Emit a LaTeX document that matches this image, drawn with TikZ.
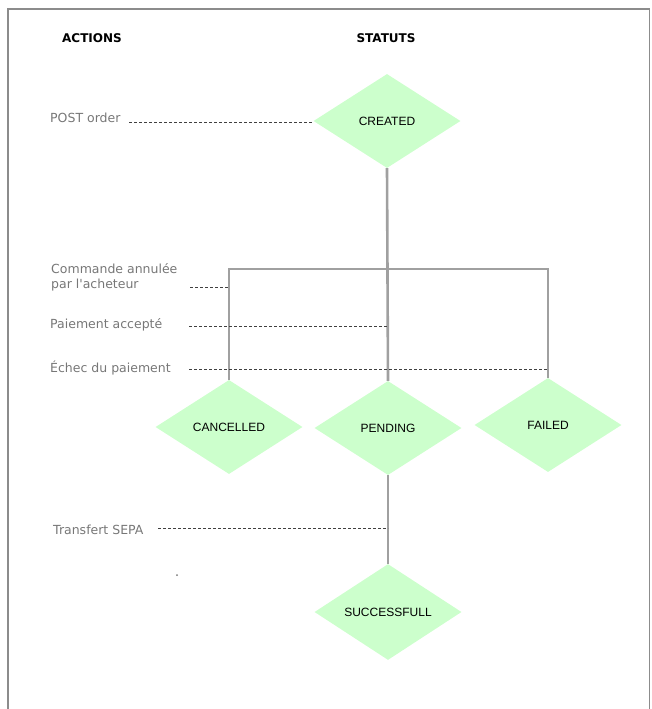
\documentclass[tikz,border=0pt]{standalone}
\usepackage{fontspec}
\setmainfont{Liberation Sans}
\newfontfamily\dvfont{DejaVu Sans}
\usetikzlibrary{shapes.geometric}
\definecolor{dfill}{HTML}{CCFFCC}
\definecolor{gline}{HTML}{A0A0A0}
\definecolor{dashc}{HTML}{404040}
\definecolor{lbl}{HTML}{777777}
\definecolor{frame}{HTML}{8C8C8C}
\tikzset{
  state/.style={diamond, fill=dfill, draw=none, minimum width=147pt, minimum height=94pt, inner sep=0pt, text=black, font=\fontsize{12}{13}\selectfont},
  head/.style={font=\dvfont\bfseries\fontsize{12}{14}\selectfont, text=black},
  act/.style={anchor=west, inner sep=0pt, text=lbl, font=\dvfont\fontsize{12.5}{15}\selectfont, align=left},
  flow/.style={draw=gline, line width=2.6pt},
  dline/.style={draw=dashc, line width=0.9pt, dash pattern=on 3pt off 2pt},
}
\begin{document}
\begin{tikzpicture}[x=1pt,y=-1pt]
\useasboundingbox (0,0) rectangle (651,709);
\draw[frame, line width=1.3pt] (8,709) -- (8,9) -- (649.5,9) -- (649.5,709);
% headers
\node[head] (hact) at (92,38) {ACTIONS};
\node[head] (hstat) at (386,38) {STATUTS};
% states
\node[state] (created) at (387,121) {CREATED};
\node[state] (cancelled) at (229,427) {CANCELLED};
\node[state] (pending) at (388,428) {PENDING};
\node[state] (failed) at (548,425) {FAILED};
\node[state] (success) at (388,612) {SUCCESSFULL};
% actions
\node[act] (post) at (50,118) {POST order};
\node[act] (annul) at (51,277.5) {Commande annulée\\par l'acheteur};
\node[act] (accept) at (50,325) {Paiement accepté};
\node[act] (echec) at (50,368) {Échec du paiement};
\node[act] (sepa) at (53,530) {Transfert SEPA};
% flow lines
\coordinate (bar) at (388,269);
\draw[flow] (created.south) -- (pending.north);
\draw[flow] (cancelled.north) -- (cancelled.north |- bar) -- (failed.north |- bar) -- (failed.north);
\draw[flow] (pending.south) -- (success.north);
% dashed connectors
\coordinate (dpost) at (129,122);
\coordinate (dannul) at (190,287);
\coordinate (daccept) at (189,326);
\coordinate (dechec) at (189,369);
\coordinate (dsepa) at (158,528);
\draw[dline] (dpost) -- (dpost -| created.west);
\draw[dline] (dannul) -- (dannul -| cancelled.north);
\draw[dline] (daccept) -- (daccept -| pending.north);
\draw[dline] (dechec) -- (dechec -| failed.north);
\draw[dline] (dsepa) -- (dsepa -| pending.south);
% stray dot
\fill[lbl] (177,575) circle (1pt);
\end{tikzpicture}
\end{document}
